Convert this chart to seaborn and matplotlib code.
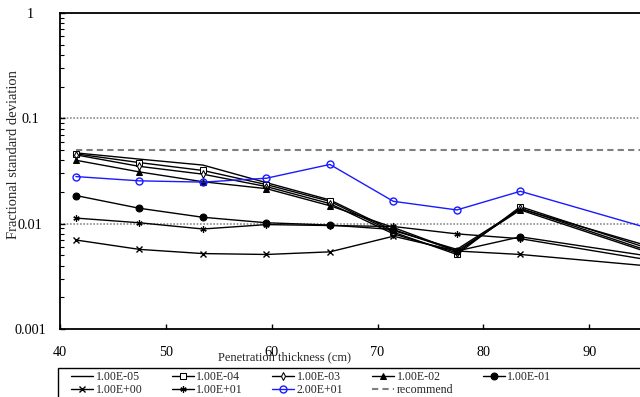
import matplotlib
matplotlib.use("Agg")
import matplotlib.pyplot as plt
from matplotlib.patches import Rectangle
import seaborn as sns
import numpy as np
import pandas as pd

# ---- data ----
x_cm = [41.5, 47.5, 53.5, 59.5, 65.5, 71.5, 77.5, 83.5, 95.2]
s_1e_05 = [0.047, 0.041, 0.036, 0.0245, 0.0168, 0.0086, 0.0057, 0.0138, 0.0063]
s_1e_04 = [0.046, 0.038, 0.032, 0.0235, 0.0163, 0.0083, 0.0051, 0.0145, 0.0060]
s_1e_03 = [0.045, 0.035, 0.0295, 0.0225, 0.0155, 0.0080, 0.0053, 0.0140, 0.0057]
s_1e_02 = [0.040, 0.031, 0.025, 0.0215, 0.0148, 0.0092, 0.0055, 0.0135, 0.0055]
s_1e_01 = [0.0185, 0.0140, 0.0115, 0.0102, 0.0097, 0.0088, 0.0055, 0.0075, 0.0050]
s_1e_00 = [0.0070, 0.0057, 0.0052, 0.0051, 0.0054, 0.0076, 0.0055, 0.0051, 0.0040]
s_1e_01p = [0.0113, 0.0102, 0.0089, 0.0098, 0.0096, 0.0094, 0.0080, 0.0072, 0.0046]
s_2e_01p = [0.028, 0.0255, 0.0248, 0.0270, 0.0365, 0.0163, 0.0135, 0.0203, 0.0093]
recommend = [0.05] * len(x_cm)

labels = ["1.00E-05", "1.00E-04", "1.00E-03", "1.00E-02", "1.00E-01",
          "1.00E+00", "1.00E+01", "2.00E+01", "recommend"]
values = [s_1e_05, s_1e_04, s_1e_03, s_1e_02, s_1e_01,
          s_1e_00, s_1e_01p, s_2e_01p, recommend]
x_ticks = [40, 50, 60, 70, 80, 90]

sns.set_style("ticks")
plt.rcParams['font.family'] = ['Liberation Serif', 'DejaVu Serif']

fig = plt.figure(figsize=(6.4, 3.97), dpi=100)
W, H = 640, 397
ax = fig.add_axes([60 / W, (H - 329) / H, 635 / W, (329 - 13) / H])

styles = {
    "1.00E-05": dict(color="black", marker=None),
    "1.00E-04": dict(color="black", marker="s", mfc="white", ms=4.0),
    "1.00E-03": dict(color="black", marker="d", mfc="white", ms=4.0),
    "1.00E-02": dict(color="black", marker="^", mfc="black", ms=4.5),
    "1.00E-01": dict(color="black", marker="o", mfc="black", ms=5.0),
    "1.00E+00": dict(color="black", marker="x", ms=4.5, mew=1.0),
    "1.00E+01": dict(color="black", marker=(6, 2, 0), ms=4.5, mew=0.9),
    "2.00E+01": dict(color="#1a1aff", marker="o", mfc="none", ms=5.0, mew=1.0),
    "recommend": dict(color="#7f7f7f", marker=None),
}

handles = {}
for lab, vals in zip(labels, values):
    st = dict(styles[lab])
    kw = dict(color=st.pop("color"))
    mk = st.pop("marker")
    if mk is not None:
        kw["marker"] = mk
        kw["markeredgecolor"] = kw["color"]
        if "mfc" in st:
            kw["markerfacecolor"] = st.pop("mfc")
        kw["markersize"] = st.pop("ms")
        if "mew" in st:
            kw["markeredgewidth"] = st.pop("mew")
    if lab == "recommend":
        kw["linewidth"] = 1.5
        kw["dashes"] = (3, 2)
    else:
        kw["linewidth"] = 1.0
    df = pd.DataFrame({"x": x_cm, "y": vals})
    sns.lineplot(data=df, x="x", y="y", ax=ax, sort=False, estimator=None,
                 label=lab, legend=False, **kw)
    handles[lab] = ax.lines[-1]

ax.set_yscale("log")
ax.set_ylim(0.001, 1)
ax.set_xlim(40, 100)
ax.set_xticks(x_ticks)

# horizontal dotted gridlines
for yv in [0.01, 0.1, 1.0]:
    ax.axhline(yv, color="#8c8c8c", linestyle=(0, (1, 1)), linewidth=1.2, zorder=0.5)

for side in ["left", "bottom", "top", "right"]:
    ax.spines[side].set_color("black")
    ax.spines[side].set_linewidth(1.3)

ax.tick_params(axis="both", which="both", direction="in", colors="black",
               labelsize=10.3)
ax.tick_params(axis="y", which="major", length=3.5, width=1.0, pad=21.6)
ax.tick_params(axis="y", which="minor", length=3, width=0.8)
ax.tick_params(axis="x", which="major", length=3.5, width=1.0, pad=12)
ax.xaxis.set_minor_locator(matplotlib.ticker.NullLocator())
ax.yaxis.set_major_formatter(matplotlib.ticker.FuncFormatter(
    lambda v, p: {1.0: "1", 0.1: "0.1", 0.01: "0.01", 0.001: "0.001"}.get(round(v, 6), "")))
for t in ax.get_yticklabels():
    t.set_ha("center")

ax.set_xlabel("")
ax.set_ylabel("")
fig.text(285 / W, 1 - 357 / H, "Penetration thickness (cm)", ha="center", va="center",
         fontsize=9.0)
fig.text(14 / W, 1 - 155 / H, "Fractional standard deviation", ha="center",
         va="center", rotation=90, fontsize=10.5)

# legend frame (extends beyond the visible figure like the reference)
fig.patches.append(Rectangle((58 / W, -0.1), 1.2, 0.1 + (H - 368) / H,
                             transform=fig.transFigure, fill=False,
                             edgecolor="black", linewidth=1.0, zorder=1))

order = ["1.00E-05", "1.00E+00", "1.00E-04", "1.00E+01", "1.00E-03", "2.00E+01",
         "1.00E-02", "recommend", "1.00E-01"]
leg = fig.legend([handles[k] for k in order], order, loc="upper left",
                 bbox_to_anchor=(71 / W, 1 - 371 / H), ncol=5, fontsize=8.6,
                 frameon=False, handlelength=1.85, handletextpad=0.2,
                 columnspacing=2.45, labelspacing=0.1, borderpad=0.0,
                 borderaxespad=0)

fig.savefig("out.png", dpi=100)
